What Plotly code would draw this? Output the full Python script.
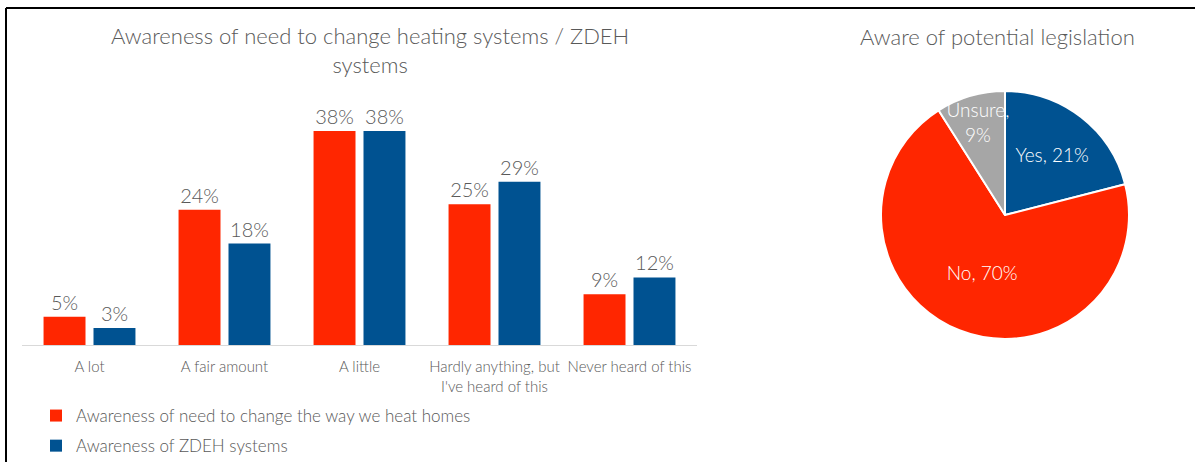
import plotly.graph_objects as go

# Bar chart data
categories = ["A lot", "A fair amount", "A little",
              "Hardly anything, but<br>I've heard of this", "Never heard of this"]
need_to_change = [5, 24, 38, 25, 9]
zdeh_systems = [3, 18, 38, 29, 12]
bar_names = ["Awareness of need to change the way we heat homes",
             "Awareness of ZDEH systems"]

# Pie chart data
pie_labels = ["Yes", "No", "Unsure"]
pie_values = [21, 70, 9]
pie_text = ["Yes, 21%", "No, 70%", "Unsure,<br>9%"]

RED = "#FF2600"
BLUE = "#005291"
GREY = "#A6A6A6"
TEXT = "#595959"
FONT = "Lato"
WEIGHT = 300

W, H = 1195, 462

fig = go.Figure()

fig.add_trace(go.Bar(
    x=categories, y=need_to_change, name=bar_names[0],
    marker=dict(color=RED, line=dict(width=0)),
    text=[f"{v}%" for v in need_to_change], textposition="outside",
    textfont=dict(size=20, color=TEXT, family=FONT, weight=WEIGHT),
    cliponaxis=False, legendgroup="a",
))
fig.add_trace(go.Bar(
    x=categories, y=zdeh_systems, name=bar_names[1],
    marker=dict(color=BLUE, line=dict(width=0)),
    text=[f"{v}%" for v in zdeh_systems], textposition="outside",
    textfont=dict(size=20, color=TEXT, family=FONT, weight=WEIGHT),
    cliponaxis=False, legendgroup="b",
))

fig.add_trace(go.Pie(
    labels=pie_labels, values=pie_values, text=pie_text,
    texttemplate="%{text}", textposition="inside",
    insidetextorientation="horizontal",
    textfont=dict(size=19, color="white", family=FONT, weight=WEIGHT),
    marker=dict(colors=[BLUE, RED, GREY], line=dict(color="white", width=2)),
    sort=False, direction="clockwise", rotation=0,
    domain=dict(x=[881 / W, 1129 / W], y=[(H - 339) / H, (H - 91) / H]),
    showlegend=False, hoverinfo="label+percent",
))

# frame lines along the top and left edges
shapes = [
    dict(type="line", xref="paper", yref="paper",
         x0=6 / W, x1=1.0, y0=(H - 8) / H, y1=(H - 8) / H,
         line=dict(color="black", width=2)),
    dict(type="line", xref="paper", yref="paper",
         x0=6 / W, x1=6 / W, y0=(H - 8) / H, y1=0,
         line=dict(color="black", width=2)),
]

annotations = [
    dict(text="Awareness of need to change heating systems / ZDEH<br>systems",
         x=370 / W, y=(H - 50) / H, xref="paper", yref="paper",
         xanchor="center", yanchor="middle", showarrow=False,
         font=dict(size=22, color=TEXT, family=FONT, weight=WEIGHT)),
    dict(text="Aware of potential legislation",
         x=997 / W, y=(H - 36) / H, xref="paper", yref="paper",
         xanchor="center", yanchor="middle", showarrow=False,
         font=dict(size=22, color=TEXT, family=FONT, weight=WEIGHT)),
]

fig.update_layout(
    width=W, height=H,
    margin=dict(l=0, r=0, t=0, b=0, autoexpand=False),
    paper_bgcolor="white", plot_bgcolor="white",
    barmode="group", bargap=0.26, bargroupgap=0.16,
    uniformtext=dict(minsize=19, mode="show"),
    font=dict(family=FONT, color=TEXT, weight=WEIGHT),
    xaxis=dict(domain=[22 / W, 697 / W], showgrid=False, showline=True,
               linecolor="#D9D9D9", linewidth=1,
               ticks="outside", ticklen=8, tickcolor="rgba(0,0,0,0)",
               tickfont=dict(size=15, color=TEXT, family=FONT, weight=WEIGHT)),
    yaxis=dict(domain=[(H - 345) / H, (H - 100) / H], range=[0, 43.5],
               visible=False, showgrid=False),
    legend=dict(x=36 / W, y=(H - 398) / H, xanchor="left", yanchor="top",
                orientation="v", tracegroupgap=5, itemwidth=30,
                font=dict(size=17, color=TEXT, family=FONT, weight=WEIGHT),
                bgcolor="rgba(0,0,0,0)"),
    shapes=shapes, annotations=annotations,
)

fig.write_html("out.html")
